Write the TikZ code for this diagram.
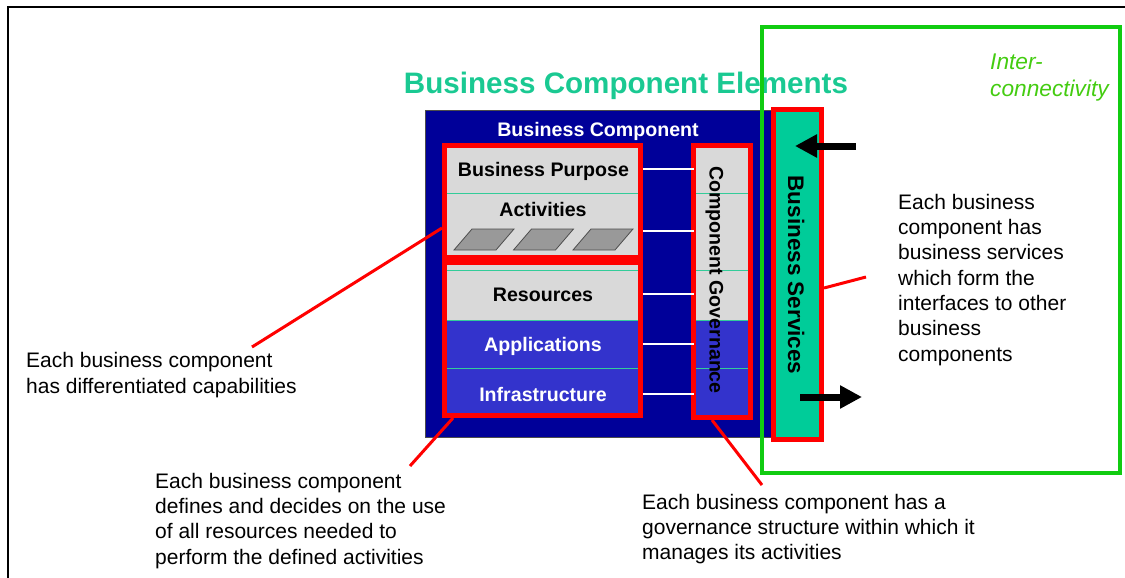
\documentclass[tikz,border=0pt]{standalone}
\usepackage{fontspec}
\setmainfont{Liberation Sans}
\usetikzlibrary{arrows.meta,calc}
\definecolor{bcnavy}{HTML}{000099}
\definecolor{bcblue}{HTML}{3333CC}
\definecolor{bcgray}{HTML}{D9D9D9}
\definecolor{bcteal}{HTML}{00CC99}
\definecolor{bctitle}{HTML}{1AC992}
\definecolor{bcsep}{HTML}{33CC99}
\definecolor{bcred}{HTML}{FF0000}
\definecolor{bcgreen}{HTML}{11CC11}
\definecolor{bclime}{HTML}{44CC11}
\definecolor{bcpar}{HTML}{999999}
\begin{document}
\begin{tikzpicture}[x=1pt,y=-1pt,
  redbox/.style={draw=bcred, line width=5pt, inner sep=0pt, outer sep=0pt},
  callout/.style={draw=bcred, line width=3pt},
  note/.style={font=\fontsize{21}{25.3}\selectfont, align=left, anchor=north west, inner sep=0pt},
  bandtext/.style={font=\bfseries\fontsize{19.6}{23}\selectfont, inner sep=0pt, text height=14pt, text depth=0pt},
  sep/.style={draw=bcsep, line width=0.8pt},
  link/.style={draw=white, line width=1.2pt},
  bigarrow/.style={draw=black, line width=7pt, -{Triangle[length=22pt,width=22pt]}},
  par/.style={fill=bcpar, draw=black!70, line width=0.8pt}
]
\useasboundingbox (0,0) rectangle (1125,578);
% page frame
\draw[line width=1.5pt] (8,578) -- (8,7) -- (1125,7);

% title
\node[font=\bfseries\fontsize{29.6}{34}\selectfont, text=bctitle, anchor=base, inner sep=0pt] (title) at (626,94) {Business Component Elements};

% business component box
\node[fill=bcnavy, draw=gray!60!black, line width=1pt, minimum width=347pt, minimum height=327pt, inner sep=0pt] (bc) at (598.5,273.5) {};
\node[font=\bfseries\fontsize{19.6}{23}\selectfont, text=white, anchor=base, inner sep=0pt] (bctext) at (598,136) {Business Component};

% left column bands
\fill[bcgray] (445,145) rectangle (640,320);
\fill[bcblue] (445,320) rectangle (640,415);
\foreach \yy in {193,270,320,368} \draw[sep] (445,\yy) -- (640,\yy);
% governance column fills
\fill[bcgray] (693,145) rectangle (751,320);
\fill[bcblue] (693,320) rectangle (751,417);
\foreach \yy in {193,270,320,368} \draw[sep] (693,\yy) -- (751,\yy);

% band labels
\node[bandtext] (purpose) at (543.5,169) {Business Purpose};
\node[bandtext] (activities) at (543,209.5) {Activities};
\node[bandtext] (resources) at (543,294) {Resources};
\node[bandtext, text=white] (applications) at (543,344.5) {Applications};
\node[bandtext, text=white] (infra) at (543,394) {Infrastructure};

% activity parallelograms
\foreach \i in {0,1,2} {
  \pgfmathsetmacro{\xo}{454+59.5*\i}
  \filldraw[par] (\xo,250) -- ({\xo+42},250) -- ({\xo+60},229) -- ({\xo+18},229) -- cycle;
}

% red grouping boxes
\node[redbox, minimum width=196pt, minimum height=112pt] (box1) at (542.5,201.5) {};
\node[redbox, minimum width=196pt, minimum height=153pt] (box2) at (542.5,339) {};
\node[redbox, minimum width=57pt, minimum height=272pt] (gov) at (722,281.5) {};
\node[bandtext, rotate=-90] (govtext) at (716.5,280) {Component Governance};

% links from bands to governance
\coordinate (l1) at (643,169);
\coordinate (l2) at (643,231);
\coordinate (l3) at (643,294);
\coordinate (l4) at (643,344);
\coordinate (l5) at (643,394);
\foreach \c in {l1,l2,l3,l4,l5} \draw[link] (\c) -- (\c -| gov.west);

% interconnectivity frame
\node[draw=bcgreen, line width=4pt, minimum width=358pt, minimum height=446pt, inner sep=0pt] (inter) at (941,250) {};
\node[note, font=\itshape\fontsize{22.7}{27}\selectfont, text=bclime] (intertext) at (990,50.1) {\strut Inter-\\connectivity};

% business services
\node[redbox, fill=bcteal, minimum width=48pt, minimum height=330pt] (bs) at (797.5,274.5) {};
\node[font=\bfseries\fontsize{22.5}{26}\selectfont, rotate=-90, inner sep=0pt, text height=16pt, text depth=0pt] (bstext) at (796,275) {Business Services};

% service arrows
\coordinate (inTail) at (856,146);
\coordinate (inTip) at (795,146);
\coordinate (outTail) at (800,397);
\coordinate (outTip) at (862,397);
\draw[bigarrow] (inTail) -- (inTip);
\draw[bigarrow] (outTail) -- (outTip);

% notes
\node[note] (n1) at (26,349.8) {\strut Each business component\\has differentiated capabilities};
\node[note] (n2) at (898,191.3) {\strut Each business\\component has\\business services\\which form the\\interfaces to other\\business\\components};
\node[note] (n3) at (155,470.3) {\strut Each business component\\defines and decides on the use\\of all resources needed to\\perform the defined activities};
\node[note] (n4) at (642,491.3) {\strut Each business component has a\\governance structure within which it\\manages its activities};

% callout lines
\coordinate (c1a) at (252,347); \coordinate (c1b) at (442,228);
\coordinate (c2a) at (410,466); \coordinate (c2b) at (453,418);
\coordinate (c3a) at (762,485); \coordinate (c3b) at (712,420);
\coordinate (c4a) at (866,277); \coordinate (c4b) at (824,288);
\draw[callout] (c1a) -- (c1b);
\draw[callout] (c2a) -- (c2b);
\draw[callout] (c3a) -- (c3b);
\draw[callout] (c4a) -- (c4b);
\end{tikzpicture}
\end{document}
